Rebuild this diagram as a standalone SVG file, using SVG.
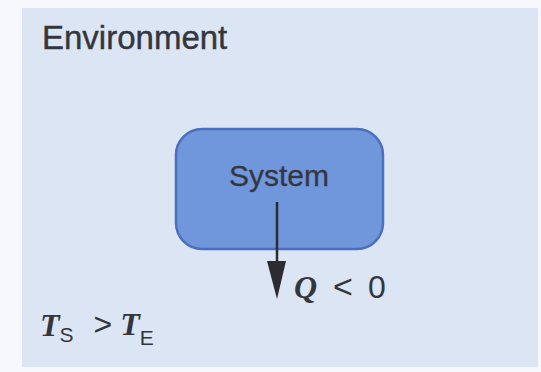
<svg xmlns="http://www.w3.org/2000/svg" width="541" height="372" viewBox="0 0 541 372">
<style>
.sans{font-family:"Liberation Sans",Arial,sans-serif;fill:#34363d}
.serif{font-family:"Liberation Serif","Times New Roman",serif;fill:#34363d;font-style:italic;font-weight:bold}
</style>
<rect x="0" y="0" width="541" height="372" fill="#f7f8fb"/>
<rect id="environment" x="22" y="8" width="516" height="359" fill="#dce5f4"/>
<text class="sans" x="42" y="49" font-size="33" stroke="#34363d" stroke-width="0.4">Environment</text>
<g id="system">
<rect x="176" y="129" width="207" height="120" rx="26" ry="26" fill="#7097db" stroke="#4c6ebf" stroke-width="2.5"/>
<text class="sans" x="279" y="186" font-size="30" text-anchor="middle" fill="#363c52" stroke="#363c52" stroke-width="0.3">System</text>
</g>
<g id="connectors">
<line x1="277" y1="202" x2="277" y2="265" stroke="#2b2b30" stroke-width="2.5"/>
<path d="M267,261 L286,261 L277,299 Z" fill="#2b2b30"/>
</g>
<g id="labels">
<text x="294" y="298" font-size="32"><tspan class="serif">Q</tspan><tspan class="sans" dx="16" font-size="34">&lt;</tspan><tspan class="sans" dx="15">0</tspan></text>
<text x="40" y="336" font-size="32"><tspan class="serif">T</tspan><tspan class="sans" font-size="21" dy="6">S</tspan><tspan class="sans" dy="-7" dx="20">&gt;</tspan><tspan class="serif" dx="8">T</tspan><tspan class="sans" font-size="21" dy="10">E</tspan></text>
</g>
</svg>
